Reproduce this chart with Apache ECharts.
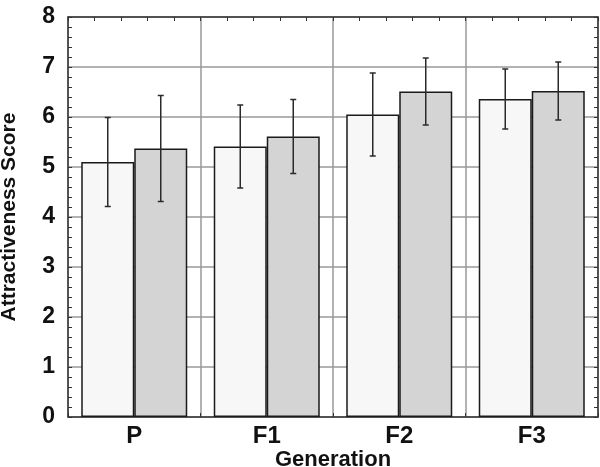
<!DOCTYPE html>
<html>
<head>
<meta charset="utf-8">
<script src="https://cdn.jsdelivr.net/npm/echarts@6/dist/echarts.min.js"></script>
<style>html,body{margin:0;padding:0;background:#fff}#c{width:600px;height:467px}</style>
</head>
<body>
<div id="c"></div>
<script>
var categories = ['P', 'F1', 'F2', 'F3'];
var series1Mean = [5.10, 5.41, 6.05, 6.36];
var series1Err = [0.89, 0.83, 0.83, 0.60];
var series2Mean = [5.37, 5.61, 6.51, 6.52];
var series2Err = [1.06, 0.74, 0.67, 0.58];
var yTicks = [0, 1, 2, 3, 4, 5, 6, 7, 8];

var chart = echarts.init(document.getElementById('c'));
var font = 'Liberation Sans, Arial, sans-serif';

function errData(mean, err) {
  return mean.map(function (m, i) { return [i, m - err[i], m + err[i]]; });
}
function errSeries(mean, err, side) {
  return {
    type: 'custom',
    xAxisIndex: 0, yAxisIndex: 0,
    z: 10,
    data: errData(mean, err),
    renderItem: function (params, api) {
      var band = api.size([1, 0])[0];
      var lo = api.coord([api.value(0), api.value(1)]);
      var hi = api.coord([api.value(0), api.value(2)]);
      var x = lo[0] + side * band * 0.2;
      var cap = 3;
      var st = { stroke: '#2a2a2a', lineWidth: 1.5 };
      return {
        type: 'group',
        children: [
          { type: 'line', shape: { x1: x, y1: lo[1], x2: x, y2: hi[1] }, style: st },
          { type: 'line', shape: { x1: x - cap, y1: lo[1], x2: x + cap, y2: lo[1] }, style: st },
          { type: 'line', shape: { x1: x - cap, y1: hi[1], x2: x + cap, y2: hi[1] }, style: st }
        ]
      };
    }
  };
}

var tickStyle = { show: true, inside: true, length: 4, lineStyle: { color: '#333', width: 1 } };
var minorStyle = { show: true, splitNumber: 5, length: 4, lineStyle: { color: '#333', width: 1 } };

chart.setOption({
  animation: false,
  backgroundColor: '#fff',
  grid: { left: 68, right: 2, top: 17, bottom: 50, show: false, containLabel: false, outerBoundsMode: 'none' },
  xAxis: [
    {
      type: 'category', data: categories, position: 'bottom',
      axisLine: { show: true, lineStyle: { color: '#333', width: 1.5 } },
      axisTick: { show: false },
      axisLabel: { fontSize: 24, fontWeight: 'bold', color: '#111', fontFamily: font, margin: 7 },
      name: 'Generation', nameLocation: 'middle', nameGap: 32, nameMoveOverlap: false,
      nameTextStyle: { fontSize: 22, fontWeight: 'bold', color: '#111', fontFamily: font },
      splitLine: { show: false }
    },
    {
      type: 'value', min: 0, max: 4, interval: 1, position: 'bottom',
      axisLine: { show: false }, axisLabel: { show: false },
      axisTick: tickStyle, minorTick: minorStyle,
      splitLine: { show: true, lineStyle: { color: '#999', width: 1.5 } }
    },
    {
      type: 'value', min: 0, max: 4, interval: 1, position: 'top',
      axisLine: { show: true, onZero: false, lineStyle: { color: '#333', width: 1.5 } },
      axisLabel: { show: false },
      axisTick: tickStyle, minorTick: minorStyle,
      splitLine: { show: false }
    }
  ],
  yAxis: [
    {
      type: 'value', min: yTicks[0], max: yTicks[yTicks.length - 1], interval: 1, position: 'left',
      axisLine: { show: true, lineStyle: { color: '#333', width: 1.5 } },
      axisTick: tickStyle, minorTick: minorStyle,
      axisLabel: { fontSize: 23, fontWeight: 'bold', color: '#111', fontFamily: font, margin: 13 },
      splitLine: { show: true, lineStyle: { color: '#999', width: 1.5 } },
      name: 'Attractiveness Score', nameLocation: 'middle', nameGap: 48, nameMoveOverlap: false,
      nameTextStyle: { fontSize: 21, fontWeight: 'bold', color: '#111', fontFamily: font }
    },
    {
      type: 'value', min: 0, max: 8, interval: 1, position: 'right',
      axisLine: { show: true, onZero: false, lineStyle: { color: '#333', width: 1.5 } },
      axisTick: tickStyle, minorTick: minorStyle,
      axisLabel: { show: false }, splitLine: { show: false }
    }
  ],
  series: [
    {
      type: 'bar', data: series1Mean, xAxisIndex: 0, yAxisIndex: 0,
      barGap: '0%', barCategoryGap: '20%', z: 5,
      itemStyle: { color: '#f7f7f7', borderColor: '#1a1a1a', borderWidth: 1.5 }
    },
    {
      type: 'bar', data: series2Mean, xAxisIndex: 0, yAxisIndex: 0,
      barGap: '0%', barCategoryGap: '20%', z: 5,
      itemStyle: { color: '#d4d4d4', borderColor: '#1a1a1a', borderWidth: 1.5 }
    },
    errSeries(series1Mean, series1Err, -1),
    errSeries(series2Mean, series2Err, 1)
  ]
});
</script>
</body>
</html>
